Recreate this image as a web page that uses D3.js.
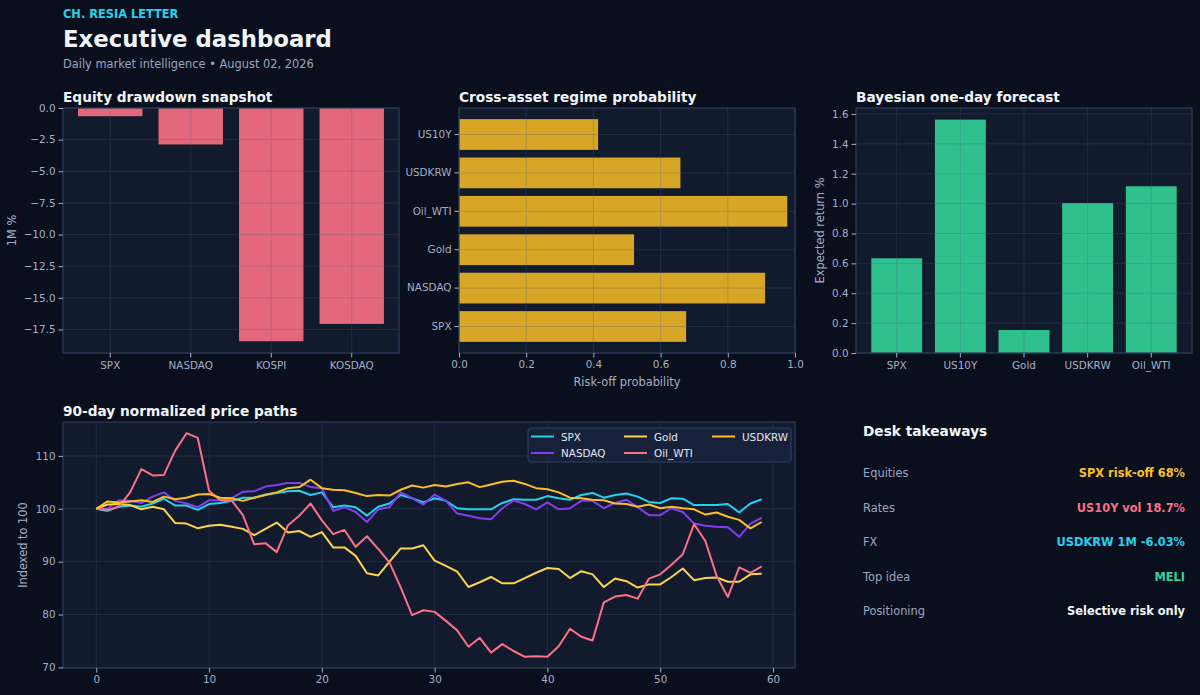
<!DOCTYPE html>
<html>
<head>
<meta charset="utf-8">
<script src="https://cdn.jsdelivr.net/npm/d3@7/dist/d3.min.js"></script>
<style>
  html, body { margin: 0; padding: 0; background: #0a0f1d; }
  svg { display: block; font-family: "DejaVu Sans", sans-serif; }
</style>
</head>
<body>
<svg id="dash" width="1200" height="695"></svg>
<script>
// ---- data ----
const eqCats = ["SPX", "NASDAQ", "KOSPI", "KOSDAQ"];
const eqDrawdown = [-0.65, -2.88, -18.43, -17.06];
const eqTicks = [0, -2.5, -5, -7.5, -10, -12.5, -15, -17.5];

const regimeCats = ["SPX", "NASDAQ", "Gold", "Oil_WTI", "USDKRW", "US10Y"];
const regimeProb = [0.676, 0.911, 0.521, 0.977, 0.659, 0.414];
const regimeTicks = [0, 0.2, 0.4, 0.6, 0.8, 1.0];

const fcCats = ["SPX", "US10Y", "Gold", "USDKRW", "Oil_WTI"];
const fcReturn = [0.634, 1.562, 0.154, 1.004, 1.116];
const fcTicks = [0, 0.2, 0.4, 0.6, 0.8, 1.0, 1.2, 1.4, 1.6];

const days = d3.range(60);
const spx = [100, 99.6, 100.4, 100.6, 100.4, 101, 101.9, 100.6, 100.6, 99.8,
  100.9, 101.1, 101.5, 102.1, 102.1, 102.7, 103, 103.3, 103.4, 102.6,
  103.1, 100.3, 100.6, 100.3, 98.7, 100.4, 101, 102.6, 102, 101.2,
  102, 101.5, 100.1, 99.9, 99.9, 99.9, 101.1, 101.8, 101.7, 101.7,
  102.4, 102, 101.7, 102.6, 103, 102.1, 102.6, 102.9, 102.3, 101.3,
  101.1, 102, 101.9, 100.7, 100.7, 100.7, 100.9, 99.3, 101, 101.8];
const nasdaq = [100, 100, 101.6, 101.5, 101.1, 102.3, 103.1, 101.5, 101, 100.3,
  101.6, 101.6, 102, 103.2, 103.3, 104.2, 104.5, 104.9, 104.9, 104.1,
  103.9, 99.6, 100.3, 99.4, 97.5, 99.9, 100.3, 103.1, 102, 100.8,
  102.7, 101.5, 99.1, 98.7, 98.2, 98, 100.1, 101.6, 100.9, 99.9,
  101.2, 99.9, 100.1, 101.5, 101.5, 100.1, 101.1, 101.7, 100.3, 98.8,
  98.8, 100.1, 99.4, 97.2, 96.8, 96.6, 96.5, 94.7, 97.2, 98.3];
const gold = [100, 100.8, 100.9, 100.7, 99.9, 100.4, 99.9, 97.3, 97.2, 96.3,
  96.8, 97, 96.6, 96.2, 95, 96.2, 97.4, 95.5, 95.8, 94.7,
  95.6, 92.7, 92.7, 91.1, 87.8, 87.4, 90, 92.5, 92.5, 93.1,
  90.2, 89.2, 88.1, 85.2, 86.1, 87.1, 85.9, 85.9, 86.9, 87.9,
  88.8, 88.6, 86.9, 88.2, 87.6, 85.2, 86.8, 86.3, 85.1, 85.7,
  85.7, 87.1, 88.7, 86.5, 86.9, 87, 86.2, 86.2, 87.6, 87.7];
const oilWti = [100, 99.8, 100.4, 103.1, 107.5, 106.3, 106.4, 111, 114.3, 113.4,
  103.4, 101.6, 101.6, 98.8, 93.3, 93.5, 91.8, 96.9, 98.7, 101,
  97.8, 95.2, 96, 92.8, 94.8, 92.4, 89.8, 85.1, 79.9, 80.8,
  80.5, 78.8, 77, 73.9, 75.6, 72.8, 74.4, 73.1, 72, 72.1,
  72, 74, 77.3, 75.8, 75.1, 82.3, 83.4, 83.7, 83, 86.8,
  87.6, 89.4, 91.4, 97.1, 93.9, 87.3, 83.3, 88.9, 87.9, 89.1];
const usdkrw = [100, 101.4, 101.2, 101.4, 101.6, 101.3, 102.3, 101.8, 102.1, 102.7,
  102.8, 102.1, 102, 101.5, 102.1, 102.6, 103.1, 103.9, 104.1, 105.5,
  103.9, 103.6, 103.5, 103, 102.4, 102.6, 102.5, 103.6, 104.4, 104,
  104.5, 104.2, 104.7, 105, 104.1, 104.6, 105.1, 105.3, 104.7, 103.9,
  103.7, 103.1, 102.1, 102, 101.7, 101.6, 101, 100.9, 100.4, 100.8,
  100.1, 100.4, 100.1, 99.9, 98.9, 99.3, 98.5, 97.9, 96.3, 97.5];
const pathNames = ["SPX", "NASDAQ", "Gold", "Oil_WTI", "USDKRW"];
const pathTicksX = [0, 10, 20, 30, 40, 50, 60];
const pathTicksY = [70, 80, 90, 100, 110];

const takeLabels = ["Equities", "Rates", "FX", "Top idea", "Positioning"];
const takeValues = ["SPX risk-off 68%", "US10Y vol 18.7%", "USDKRW 1M -6.03%", "MELI", "Selective risk only"];

// ---- style ----
const PANEL = "#121a2e";
const SPINE = "#2e3c5d";
const GRID = "#4a5a7c";
const TICK = "#a3aec7";
const WHITE = "#f1f5f9";
const colors = {
  SPX: "#22d3ee", NASDAQ: "#8040f0", Gold: "#fcd34d",
  Oil_WTI: "#fb7185", USDKRW: "#fbbf24"
};
const takeColors = ["#fbbf24", "#fb7185", "#22d3ee", "#34d399", WHITE];

const svg = d3.select("#dash");
svg.append("rect").attr("width", 1200).attr("height", 695).attr("fill", "#0a0f1d");

// header
svg.append("text").attr("x", 63).attr("y", 18)
  .attr("fill", "#22d3ee").attr("font-size", 11.4).attr("font-weight", "bold")
  .text("CH. RESIA LETTER");
svg.append("text").attr("x", 63).attr("y", 47)
  .attr("fill", WHITE).attr("font-size", 22.8).attr("font-weight", "bold")
  .text("Executive dashboard");
svg.append("text").attr("x", 63).attr("y", 68)
  .attr("fill", "#9aa5c0").attr("font-size", 11.4)
  .text("Daily market intelligence \u2022 August 02, 2026");

function makePanel(box, title) {
  const g = svg.append("g").attr("transform", `translate(${box.x},${box.y})`);
  g.append("rect").attr("width", box.w).attr("height", box.h).attr("fill", PANEL);
  svg.append("text").attr("x", box.x).attr("y", box.y - 6)
    .attr("fill", WHITE).attr("font-size", 13.7).attr("font-weight", "bold")
    .text(title);
  return g;
}

function styleAxis(sel) {
  sel.select(".domain").remove();
  sel.selectAll(".tick line").attr("stroke", TICK);
  sel.selectAll(".tick text").attr("fill", TICK).attr("font-size", 10.4)
    .attr("font-family", "DejaVu Sans, sans-serif");
}

function gridLines(g, box, xs, ys) {
  const gg = g.append("g").attr("stroke", GRID).attr("stroke-opacity", 0.35).attr("stroke-width", 0.8);
  xs.forEach(x => gg.append("line").attr("x1", x).attr("x2", x).attr("y1", 0).attr("y2", box.h));
  ys.forEach(y => gg.append("line").attr("y1", y).attr("y2", y).attr("x1", 0).attr("x2", box.w));
}

function spine(g, box) {
  g.append("rect").attr("width", box.w).attr("height", box.h)
    .attr("fill", "none").attr("stroke", SPINE).attr("stroke-width", 1.2);
}

function yLabel(x, y, text) {
  svg.append("text").attr("transform", `translate(${x},${y}) rotate(-90)`)
    .attr("text-anchor", "middle").attr("fill", TICK).attr("font-size", 11.4)
    .text(text);
}

// ---- panel 1: equity drawdown ----
{
  const box = { x: 63, y: 108, w: 336, h: 245 };
  const g = makePanel(box, "Equity drawdown snapshot");
  const x = d3.scaleBand().domain(eqCats).range([0, box.w]).paddingInner(0.2).paddingOuter(0.187);
  const y = d3.scaleLinear().domain([-19.36, 0]).range([box.h, 0]);

  g.selectAll(".bar").data(eqCats).join("rect")
    .attr("x", d => x(d)).attr("width", x.bandwidth())
    .attr("y", 0).attr("height", (d, i) => y(eqDrawdown[i]) - y(0))
    .attr("fill", "#fb7185").attr("fill-opacity", 0.9);

  gridLines(g, box, eqCats.map(d => x(d) + x.bandwidth() / 2), eqTicks.map(y));
  spine(g, box);

  g.append("g").call(d3.axisLeft(y).tickValues(eqTicks).tickFormat(d3.format(".1f")).tickSize(4.5).tickPadding(3))
    .call(styleAxis);
  g.append("g").attr("transform", `translate(0,${box.h})`)
    .call(d3.axisBottom(x).tickSize(4.5).tickPadding(4)).call(styleAxis);
  yLabel(16, box.y + box.h / 2, "1M %");
}

// ---- panel 2: regime probability ----
{
  const box = { x: 459, y: 108, w: 336, h: 245 };
  const g = makePanel(box, "Cross-asset regime probability");
  const x = d3.scaleLinear().domain([0, 1]).range([0, box.w]);
  const y = d3.scaleBand().domain(regimeCats).range([box.h, 0]).paddingInner(0.2).paddingOuter(0.29);

  g.selectAll(".bar").data(regimeCats).join("rect")
    .attr("x", 0).attr("width", (d, i) => x(regimeProb[i]))
    .attr("y", d => y(d)).attr("height", y.bandwidth())
    .attr("fill", "#fbbf24").attr("fill-opacity", 0.85);

  gridLines(g, box, regimeTicks.map(x), regimeCats.map(d => y(d) + y.bandwidth() / 2));
  spine(g, box);

  g.append("g").call(d3.axisLeft(y).tickSize(4.5).tickPadding(3)).call(styleAxis);
  g.append("g").attr("transform", `translate(0,${box.h})`)
    .call(d3.axisBottom(x).tickValues(regimeTicks).tickFormat(d3.format(".1f")).tickSize(4.5).tickPadding(3.5))
    .call(styleAxis);
  svg.append("text").attr("x", box.x + box.w / 2).attr("y", 386)
    .attr("text-anchor", "middle").attr("fill", TICK).attr("font-size", 11.4)
    .text("Risk-off probability");
}

// ---- panel 3: bayesian forecast ----
{
  const box = { x: 856, y: 108, w: 336, h: 245 };
  const g = makePanel(box, "Bayesian one-day forecast");
  const x = d3.scaleBand().domain(fcCats).range([0, box.w]).paddingInner(0.2).paddingOuter(0.24);
  const y = d3.scaleLinear().domain([0, 1.64]).range([box.h, 0]);

  g.selectAll(".bar").data(fcCats).join("rect")
    .attr("x", d => x(d)).attr("width", x.bandwidth())
    .attr("y", (d, i) => y(fcReturn[i])).attr("height", (d, i) => y(0) - y(fcReturn[i]))
    .attr("fill", "#34d399").attr("fill-opacity", 0.9);

  gridLines(g, box, fcCats.map(d => x(d) + x.bandwidth() / 2), fcTicks.map(y));
  spine(g, box);

  g.append("g").call(d3.axisLeft(y).tickValues(fcTicks).tickFormat(d3.format(".1f")).tickSize(4.5).tickPadding(3))
    .call(styleAxis);
  g.append("g").attr("transform", `translate(0,${box.h})`)
    .call(d3.axisBottom(x).tickSize(4.5).tickPadding(4)).call(styleAxis);
  yLabel(824, box.y + box.h / 2, "Expected return %");
}

// ---- panel 4: price paths ----
{
  const box = { x: 63, y: 422, w: 732, h: 246 };
  const g = makePanel(box, "90-day normalized price paths");
  const series = [spx, nasdaq, gold, oilWti, usdkrw];
  const lo = d3.min(series, s => d3.min(s));
  const hi = d3.max(series, s => d3.max(s));
  const pad = (hi - lo) * 0.05;
  const x = d3.scaleLinear().domain([-2.95, 61.95]).range([0, box.w]);
  const y = d3.scaleLinear().domain([lo - pad, hi + pad]).range([box.h, 0]);

  gridLines(g, box, pathTicksX.map(x), pathTicksY.map(y));

  const line = d3.line().x((d, i) => x(days[i])).y(d => y(d));
  g.selectAll(".path").data(series).join("path")
    .attr("d", line).attr("fill", "none")
    .attr("stroke", (d, i) => colors[pathNames[i]])
    .attr("stroke-width", 2).attr("stroke-linejoin", "round");

  spine(g, box);
  g.append("g").call(d3.axisLeft(y).tickValues(pathTicksY).tickSize(4.5).tickPadding(3)).call(styleAxis);
  g.append("g").attr("transform", `translate(0,${box.h})`)
    .call(d3.axisBottom(x).tickValues(pathTicksX).tickSize(4.5).tickPadding(3.5)).call(styleAxis);
  yLabel(27, box.y + box.h / 2, "Indexed to 100");

  // legend, 3 columns, filled down each column
  const lg = svg.append("g").attr("transform", "translate(528,428)");
  lg.append("rect").attr("width", 263).attr("height", 34).attr("rx", 2.5)
    .attr("fill", "#18223b").attr("fill-opacity", 0.95).attr("stroke", "#33415f");
  const colX = [3, 96, 184];
  pathNames.forEach((name, i) => {
    const cx = colX[Math.floor(i / 2)];
    const cy = 8.5 + (i % 2) * 16.5;
    lg.append("line").attr("x1", cx).attr("x2", cx + 23).attr("y1", cy).attr("y2", cy)
      .attr("stroke", colors[name]).attr("stroke-width", 2);
    lg.append("text").attr("x", cx + 30).attr("y", cy + 4)
      .attr("fill", "#e2e8f0").attr("font-size", 10.4).text(name);
  });
}

// ---- desk takeaways ----
{
  svg.append("text").attr("x", 863).attr("y", 436)
    .attr("fill", WHITE).attr("font-size", 13.7).attr("font-weight", "bold")
    .text("Desk takeaways");
  const rowY = d3.scalePoint().domain(takeLabels).range([477, 615]);
  takeLabels.forEach((lab, i) => {
    svg.append("text").attr("x", 863).attr("y", rowY(lab))
      .attr("fill", "#9aa5c0").attr("font-size", 11.4).text(lab);
    svg.append("text").attr("x", 1185).attr("y", rowY(lab))
      .attr("text-anchor", "end").attr("fill", takeColors[i])
      .attr("font-size", 11.4).attr("font-weight", "bold").text(takeValues[i]);
  });
}
</script>
</body>
</html>
